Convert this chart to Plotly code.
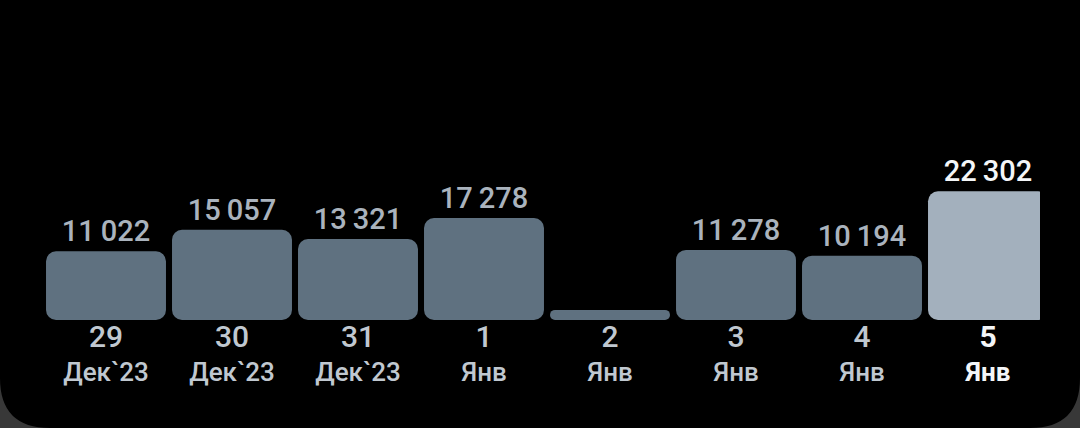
import plotly.graph_objects as go

# ---- data ----
days = ["29", "30", "31", "1", "2", "3", "4", "5"]
months = ["Дек`23", "Дек`23", "Дек`23", "Янв", "Янв", "Янв", "Янв", "Янв"]
values = [11022, 15057, 13321, 17278, 0, 11278, 10194, 22302]
highlight = [False, False, False, False, False, False, False, True]

# ---- styling ----
W, H = 1080, 428
ML, MR, MT, MB = 43, 40, 0, 108
BASE = 1900            # minimum visible bar stub (axis units)
PX_PER_UNIT = 0.00532
plot_h = H - MT - MB
y_top = plot_h / PX_PER_UNIT - BASE

bar_col = "#5f7180"
hi_col = "#a3b0bd"
lbl_col = "#aab3bd"
hi_lbl = "#f4f6f8"
tick_col = "#c0c8d0"

x = list(range(len(values)))
texts = [("" if v == 0 else f"{v:,}".replace(",", "\u2009")) for v in values]
ticktext = []
for d, m, h in zip(days, months, highlight):
    if h:
        ticktext.append(f"<span style='font-size:30px;color:{hi_lbl}'><b>{d}</b></span><br><b style='color:{hi_lbl}'>{m}</b>")
    else:
        ticktext.append(f"<span style='font-size:30px'>{d}</span><br>{m}")

fig = go.Figure(go.Bar(
    x=x,
    y=[v + BASE for v in values],
    base=-BASE,
    marker=dict(color=[hi_col if h else bar_col for h in highlight], cornerradius=10,
                line=dict(width=0)),
    text=texts,
    textposition="outside",
    textfont=dict(family="Roboto", size=29, weight=500,
                  color=[hi_lbl if h else lbl_col for h in highlight]),
    cliponaxis=False,
    hoverinfo="skip",
))

# rounded screen corners (decorative)
plot_w = W - ML - MR
def px2paper(px, py):
    return (px - ML) / plot_w, (H - MB - py) / plot_h

R = 50
corner_col = "#383838"
def corner_path(left):
    if left:
        pts = [(0, H - R), (0, H), (R, H)]
    else:
        pts = [(W, H - R), (W, H), (W - R, H)]
    (x0, y0), (xc, yc), (x1, y1) = [px2paper(*p) for p in pts]
    return f"M {x0} {y0} Q {xc} {yc} {x1} {y1} L {xc} {yc} Z"

shapes = []
for left in (True, False):
    shapes.append(dict(type="path", xref="paper", yref="paper", path=corner_path(left),
                       fillcolor=corner_col, line=dict(width=0), layer="above"))

fig.update_layout(
    width=W, height=H, autosize=False,
    margin=dict(l=ML, r=MR, t=MT, b=MB, pad=0),
    paper_bgcolor="#000000", plot_bgcolor="#000000",
    bargap=0.048,
    showlegend=False,
    shapes=shapes,
    xaxis=dict(range=[-0.5, 7.5 - 11 / 126], tickmode="array", tickvals=x, ticktext=ticktext,
               showgrid=False, zeroline=False, showline=False, ticks="",
               tickfont=dict(family="Roboto", size=26, weight=500, color=tick_col)),
    yaxis=dict(range=[-BASE, y_top], visible=False, showgrid=False, zeroline=False),
)

fig.write_html("out.html", config={"displayModeBar": False, "staticPlot": True},
               post_script="document.body.style.margin='0';document.body.style.overflow='hidden';document.body.style.background='#000';")
